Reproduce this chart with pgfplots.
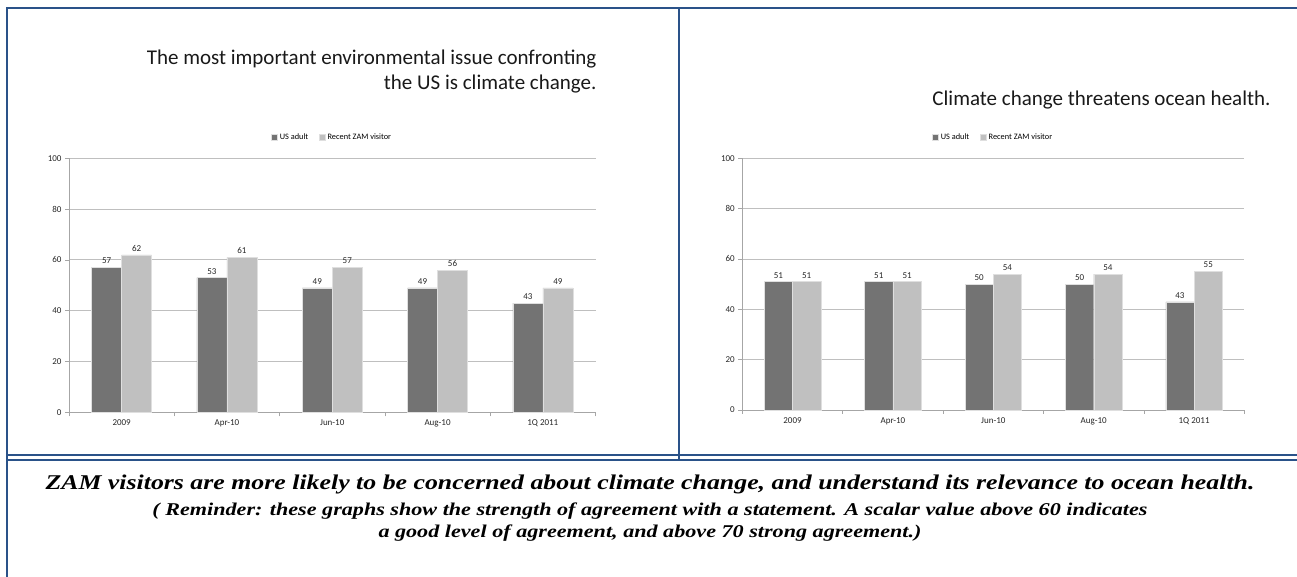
\documentclass[border=0pt]{standalone}
\usepackage{fontspec}
\setmainfont{Carlito}
\newfontfamily\capfont[FakeStretch=1.23]{Liberation Serif}
\usepackage{pgfplots}
\pgfplotsset{compat=1.18}
\definecolor{navy}{HTML}{2A5289}
\definecolor{darkbar}{HTML}{737373}
\definecolor{lightbar}{HTML}{C0C0C0}
\definecolor{gridc}{HTML}{BFBFBF}
\definecolor{axc}{HTML}{A6A6A6}
\pgfplotsset{
  zamstyle/.style={
    scale only axis, ybar=0pt, ymin=0, ymax=100, xmin=-0.5, xmax=4.5,
    xtick={0,1,2,3,4}, xticklabels={2009,Apr-10,Jun-10,Aug-10,1Q 2011},
    major x tick style={draw=none},
    minor xtick={-0.5,0.5,1.5,2.5,3.5,4.5},
    minor tick length=4pt,
    ytick={0,20,...,100},
    ymajorgrids, grid style={gridc, line width=0.8pt},
    axis x line*=bottom, axis y line*=left,
    axis line style={axc, line width=0.8pt, -},
    tick style={axc, line width=0.6pt},
    tick align=outside, major tick length=4pt,
    ticklabel style={font=\fontsize{9}{10}\selectfont, text=black!85},
    /pgf/number format/assume math mode=true,
    nodes near coords,
    nodes near coords style={font=\fontsize{9}{10}\selectfont, text=black!85},
    legend style={at={(0.5,1)}, anchor=south, yshift=13pt, draw=none, fill=none,
      font=\fontsize{8.3}{9}\selectfont, legend columns=-1,
      /tikz/every even column/.append style={column sep=9pt}},
    legend image code/.code={\fill[#1] (0pt,-3pt) rectangle (6pt,3pt);},
    enlarge x limits=false, clip=false,
  }
}
\begin{document}
\begin{tikzpicture}[x=1pt,y=1pt]
\useasboundingbox (0,0) rectangle (1297,577);
% frame
\draw[navy, line width=2pt] (7,0) -- (7,569) -- (1297,569);
\draw[navy, line width=2pt] (679,569) -- (679,117);
\draw[navy, line width=1.5pt] (7,122) -- (1297,122);
\draw[navy, line width=1.5pt] (7,117) -- (1297,117);
% left chart
\begin{axis}[zamstyle, at={(69pt,164.7pt)}, anchor=south west, width=526.5pt, height=254pt, bar width=30pt]
\addplot[fill=darkbar, draw=gray!25] coordinates {(0,57) (1,53) (2,49) (3,49) (4,43)};
\addplot[fill=lightbar, draw=gray!25] coordinates {(0,62) (1,61) (2,57) (3,56) (4,49)};
\legend{US adult, Recent ZAM visitor}
\end{axis}
% right chart
\begin{axis}[zamstyle, at={(742.3pt,167pt)}, anchor=south west, width=502pt, height=251.7pt, bar width=28.3pt]
\addplot[fill=darkbar, draw=gray!25] coordinates {(0,51) (1,51) (2,50) (3,50) (4,43)};
\addplot[fill=lightbar, draw=gray!25] coordinates {(0,51) (1,51) (2,54) (3,54) (4,55)};
\legend{US adult, Recent ZAM visitor}
\end{axis}
% titles
\node[anchor=east, align=right, font=\fontsize{21}{25}\selectfont, text=black!90] at (600,505)
  {The most important environmental issue confronting\\the US is climate change.};
\node[anchor=east, font=\fontsize{21}{25}\selectfont, text=black!90] at (1274,477)
  {Climate change threatens ocean health.};
% bottom text
\node[font=\capfont\bfseries\itshape\fontsize{21}{24}\selectfont] at (650,93)
  {ZAM visitors are more likely to be concerned about climate change, and understand its relevance to ocean health.};
\node[align=center, font=\capfont\bfseries\itshape\fontsize{18}{22}\selectfont] at (650,55)
  {( Reminder: these graphs show the strength of agreement with a statement. A scalar value above 60 indicates\\a good level of agreement, and above 70 strong agreement.)};
\end{tikzpicture}
\end{document}
